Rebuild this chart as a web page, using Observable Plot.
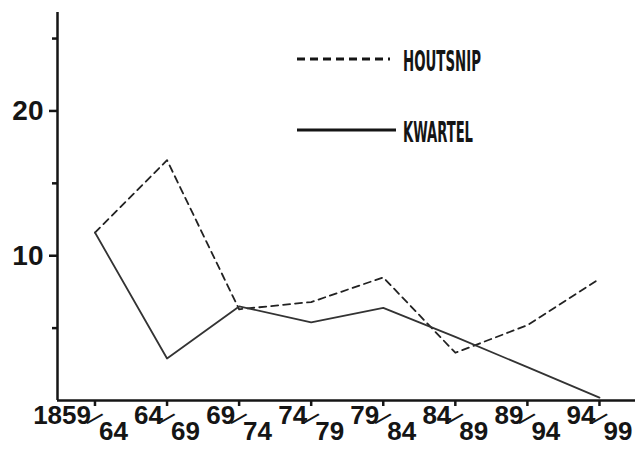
<!DOCTYPE html>
<html><head><meta charset="utf-8">
<script src="https://cdn.jsdelivr.net/npm/d3@7"></script>
<script src="https://cdn.jsdelivr.net/npm/@observablehq/plot@0.6"></script>
<style>
html,body{margin:0;padding:0;background:#fff;overflow:hidden;}
#wrap{position:relative;width:635px;height:451px;overflow:hidden;}
#wrap svg{display:block;}
#legend{position:absolute;left:0;top:0;}
</style></head><body><div id="wrap"></div>
<script>
const periodStart = ["1859","64","69","74","79","84","89","94"];
const periodEnd   = ["64","69","74","79","84","89","94","99"];
const houtsnip = [11.6, 16.6, 6.3, 6.8, 8.5, 3.3, 5.2, 8.4];
const kwartel  = [11.6, 2.9, 6.5, 5.4, 6.4, 4.4, 2.3, 0.2];
const seriesNames = ["HOUTSNIP", "KWARTEL"];
const yMajor = [10, 20];
const yMinor = [5, 15, 25];

const idx = periodStart.map((_, i) => i);
const xDomain = [-0.52, 7.5];
const yDomain = [0, 26.8];
const rows = idx.map(i => ({i, start: periodStart[i], end: periodEnd[i], h: houtsnip[i], k: kwartel[i]}));

const font = "'Liberation Sans', Arial, Helvetica, sans-serif";
const ink = "#151515";

const plot = Plot.plot({
  width: 635, height: 451,
  marginLeft: 57, marginRight: 0, marginTop: 12, marginBottom: 51,
  style: {fontFamily: font, background: "white", color: ink},
  x: {type: "linear", domain: xDomain, axis: null, label: null},
  y: {domain: yDomain, axis: null, label: null},
  marks: [
    Plot.axisY({ticks: yMajor, label: null, tickSize: 8, tickPadding: 6, fontSize: 28, fontWeight: "bold", strokeWidth: 2.5, stroke: ink, fill: ink}),
    Plot.axisY({ticks: yMinor, label: null, tickSize: 5, tickFormat: () => "", strokeWidth: 2.5, stroke: ink}),
    Plot.axisX({ticks: idx, label: null, tickSize: 6, tickFormat: () => "", strokeWidth: 2.5, stroke: ink}),
    Plot.ruleX([xDomain[0]], {y1: yDomain[0], y2: yDomain[1], stroke: ink, strokeWidth: 2.5}),
    Plot.ruleY([0], {stroke: ink, strokeWidth: 2.5}),
    Plot.line(rows, {x: "i", y: "h", stroke: "#222", strokeWidth: 1.8, strokeDasharray: "7,5"}),
    Plot.line(rows, {x: "i", y: "k", stroke: "#333", strokeWidth: 1.8}),
    Plot.text(rows, {x: "i", frameAnchor: "bottom", text: "start", textAnchor: "end", lineAnchor: "bottom", dx: -4, dy: 23, fontSize: 26, fontWeight: "bold", fill: ink}),
    Plot.text(rows, {x: "i", frameAnchor: "bottom", text: "end", textAnchor: "start", lineAnchor: "bottom", dx: 4, dy: 39, fontSize: 26, fontWeight: "bold", fill: ink}),
    Plot.text(rows, {x: "i", frameAnchor: "bottom", text: () => "/", textAnchor: "middle", lineAnchor: "middle", rotate: 45, dx: -1, dy: 19, fontSize: 24, fill: ink})
  ]
});
document.getElementById("wrap").appendChild(plot);

// Legend overlay
const leg = d3.select("#wrap").append("svg").attr("id", "legend").attr("width", 635).attr("height", 451);
const legItems = [
  {name: seriesNames[0], dash: "8,5", y: 59, x2: 390, tl: 78},
  {name: seriesNames[1], dash: null, y: 130, x2: 396, tl: 70}
];
legItems.forEach(d => {
  leg.append("line").attr("x1", 297).attr("x2", d.x2).attr("y1", d.y).attr("y2", d.y)
    .attr("stroke", ink).attr("stroke-width", 3).attr("stroke-dasharray", d.dash);
  leg.append("text").attr("x", 403).attr("y", d.y + 12).text(d.name)
    .attr("font-family", "'Liberation Sans Narrow', 'DejaVu Sans Condensed', 'Liberation Sans', sans-serif")
    .attr("font-weight", "bold").attr("font-size", 29).attr("fill", ink)
    .attr("textLength", d.tl).attr("lengthAdjust", "spacingAndGlyphs");
});
</script></body></html>
